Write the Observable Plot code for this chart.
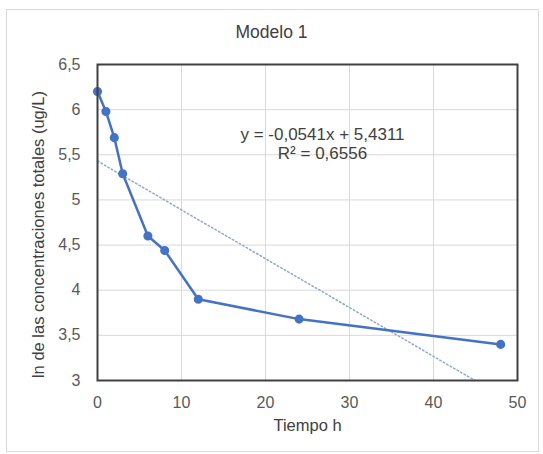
<!DOCTYPE html>
<html>
<head>
<meta charset="utf-8">
<script src="https://cdn.jsdelivr.net/npm/d3@7"></script>
<script src="https://cdn.jsdelivr.net/npm/@observablehq/plot@0.6"></script>
<style>
  html, body { margin: 0; padding: 0; background: #fff; }
  #wrap { position: relative; width: 543px; height: 454px; font-family: "Liberation Sans", Arial, sans-serif; }
  #border { position: absolute; left: 6px; top: 9px; width: 533px; height: 443px; border: 1px solid #d9d9d9; box-sizing: border-box; }
  #title { position: absolute; left: 0; width: 543px; top: 22px; text-align: center; font-size: 17.5px; color: #404040; }
  #chart { position: absolute; left: 0; top: 0; }
</style>
</head>
<body>
<div id="wrap">
  <div id="border"></div>
  <div id="chart"></div>
  <div id="title">Modelo 1</div>
</div>
<script>
// Data
const tiempo = [0, 1, 2, 3, 6, 8, 12, 24, 48];
const lnConc = [6.2, 5.98, 5.69, 5.29, 4.6, 4.44, 3.9, 3.68, 3.4];
const slope = -0.0541;
const intercept = 5.4311;
const r2 = 0.6556;
const xTicks = [0, 10, 20, 30, 40, 50];
const yTicks = [3, 3.5, 4, 4.5, 5, 5.5, 6, 6.5];
const xDomain = [0, 50];
const yDomain = [3, 6.5];
const titleText = "Modelo 1";
const xLabel = "Tiempo h";
const yLabel = "ln de las concentraciones totales (ug/L)";

const pts = tiempo.map((t, i) => ({t, v: lnConc[i]}));
const xEnd = Math.min(xDomain[1], (yDomain[0] - intercept) / slope);
const trend = [xDomain[0], xEnd].map(t => ({t, v: intercept + slope * t}));
const fmt = d => String(d).replace(".", ",");
const fmt4 = d => d.toFixed(4).replace(".", ",");
const eq1 = `y = ${fmt4(slope)}x + ${fmt4(intercept)}`;
const eq2 = `R² = ${fmt4(r2)}`;

const blue = "#4472C4";
const plot = Plot.plot({
  width: 543,
  height: 454,
  marginLeft: 97,
  marginRight: 26,
  marginTop: 64,
  marginBottom: 74,
  style: { fontFamily: "Liberation Sans, Arial, sans-serif", fontSize: "16px", color: "#595959", background: "transparent" },
  x: { domain: xDomain, ticks: xTicks, tickFormat: fmt, label: null },
  y: { domain: yDomain, ticks: yTicks, tickFormat: fmt, label: null },
  marks: [
    Plot.gridX(xTicks, { stroke: "#d9d9d9", strokeOpacity: 1, strokeWidth: 1 }),
    Plot.gridY(yTicks, { stroke: "#d9d9d9", strokeOpacity: 1, strokeWidth: 1 }),
    Plot.axisX(xTicks, { tickSize: 0, tickPadding: 16, tickFormat: fmt, label: null, fill: "#595959", fontSize: 16 }),
    Plot.axisY(yTicks, { tickSize: 0, tickPadding: 17, tickFormat: fmt, label: null, fill: "#595959", fontSize: 16 }),
    Plot.line(trend, { x: "t", y: "v", stroke: "#8fa6cf", strokeWidth: 1.5, strokeDasharray: "1.5,2.5" }),
    Plot.line(pts, { x: "t", y: "v", stroke: blue, strokeWidth: 2.5 }),
    Plot.dot(pts, { x: "t", y: "v", r: 3.8, fill: blue, stroke: blue }),
    Plot.frame({ stroke: "#404040", strokeWidth: 2 }),
    Plot.text([eq1], { frameAnchor: "top", dx: 15, dy: 63, text: d => d, fill: "#404040", fontSize: 17 }),
    Plot.text([eq2], { frameAnchor: "top", dx: 15, dy: 82, text: d => d, fill: "#404040", fontSize: 17 }),
    Plot.text([xLabel], { frameAnchor: "bottom", dy: 50, text: d => d, fill: "#404040", fontSize: 16.5 }),
    Plot.text([yLabel], { frameAnchor: "left", dx: -59, dy: 12, rotate: -90, textAnchor: "middle", text: d => d, fill: "#404040", fontSize: 16.5 })
  ]
});
document.getElementById("chart").appendChild(plot);
document.getElementById("title").textContent = titleText;
</script>
</body>
</html>
